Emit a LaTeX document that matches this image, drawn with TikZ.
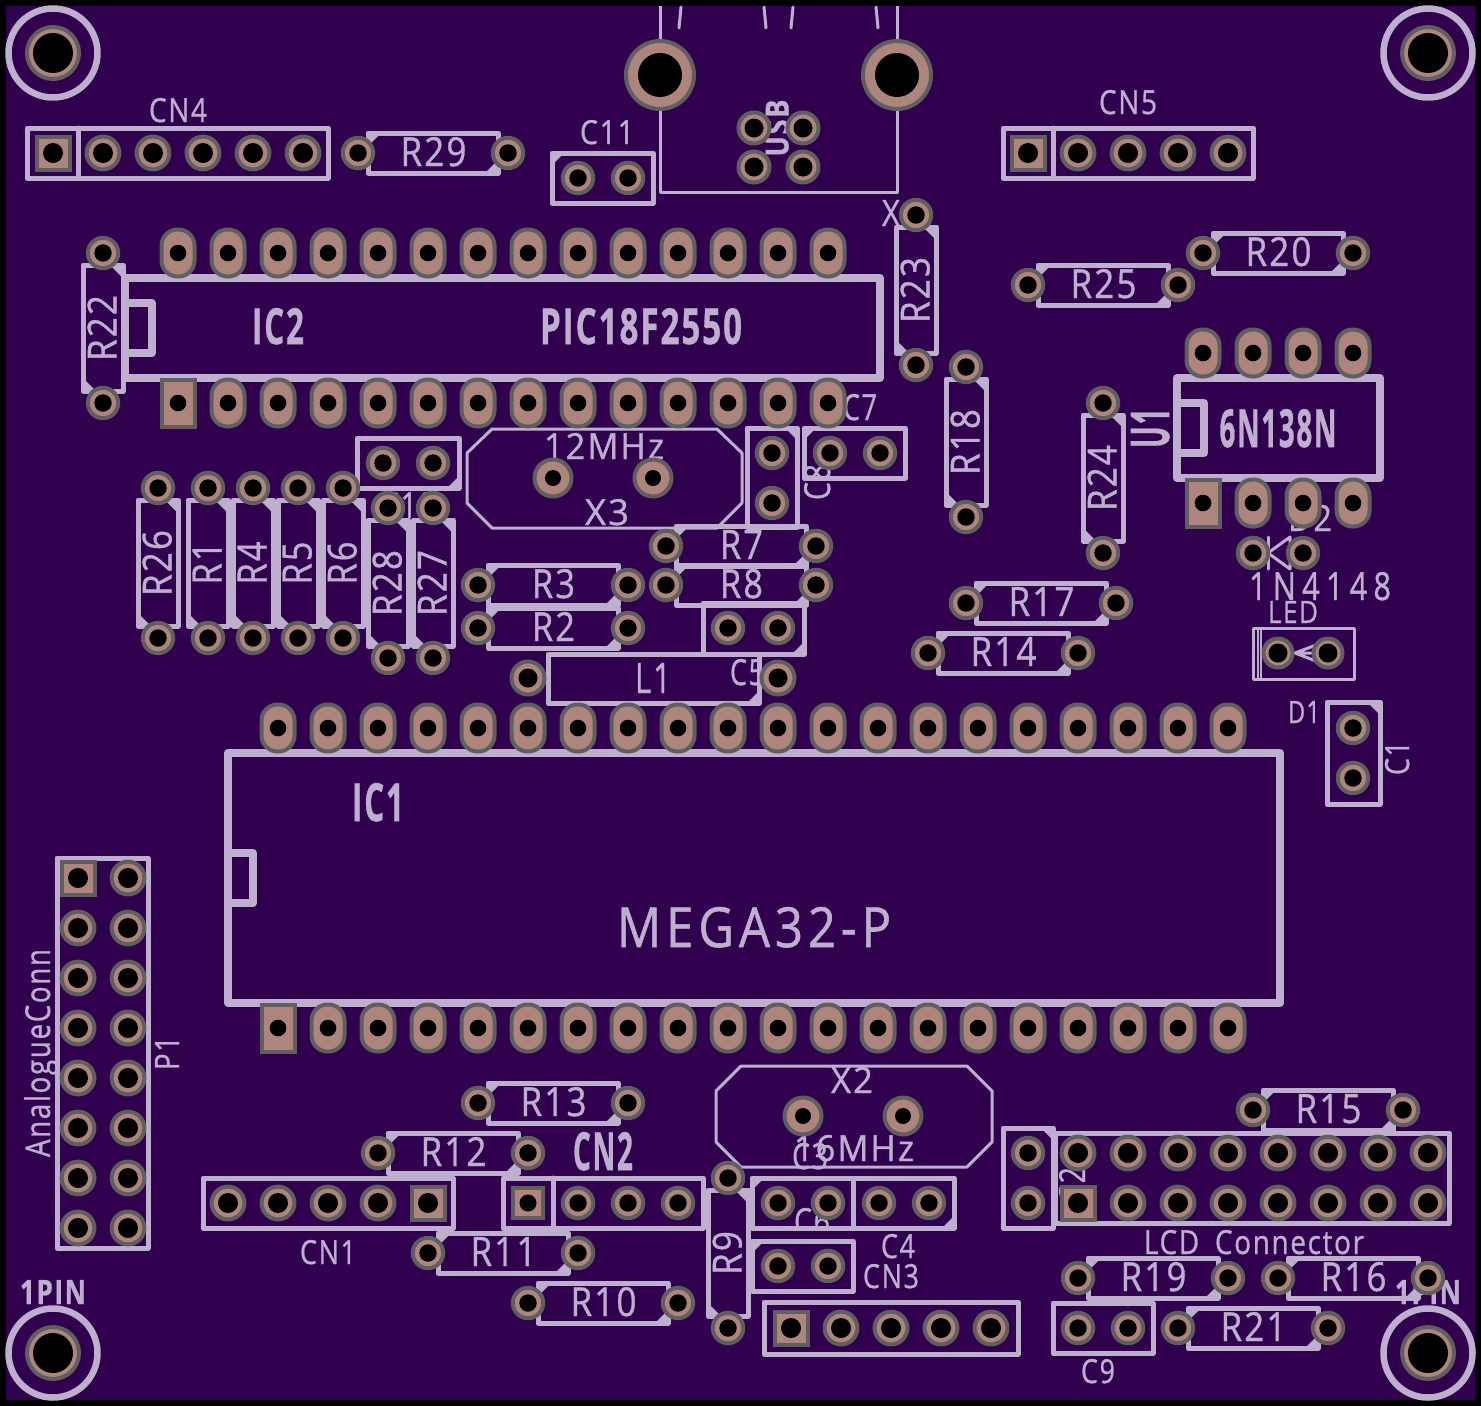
\documentclass[tikz,border=0pt]{standalone}
\usepackage{graphicx}
\usepackage{fontspec}
\setmainfont{Open Sans}[LetterSpace=6,FakeBold=1]
\definecolor{board}{HTML}{30004F}
\definecolor{silkc}{HTML}{BFAFCF}
\definecolor{padf}{HTML}{AD857D}
\definecolor{padl}{HTML}{5F5F5F}
\pgfdeclarelayer{pads}
\pgfsetlayers{main,pads}
\tikzset{
  silk/.style={draw=silkc,line width=5pt,line join=round,line cap=round},
  thick silk/.style={silk,line width=8pt},
  thin silk/.style={silk,line width=3pt},
  pad/.style={draw=padl,fill=padf,line width=4pt},
  hole/.style={fill=black},
  lbl/.style={inner sep=0pt,outer sep=0pt,text=silkc,anchor=center}
}
\newcounter{tcnt}
% text: x y rot width height text
\newcommand\T[6]{\stepcounter{tcnt}\node[lbl,rotate=#3] (t\thetcnt) at (#1,#2) {\resizebox{#4pt}{#5pt}{\raisebox{0pt}[\height][0pt]{#6}}};}
% round pad: x y outer-radius hole-radius
\newcommand\RP[4]{\begin{pgfonlayer}{pads}\draw[pad] (#1,#2) circle ({#3-2}); \fill[hole] (#1,#2) circle (#4);\end{pgfonlayer}}
\newcommand\rp[2]{\RP{#1}{#2}{17.2}{8.7}}
\newcommand\rb[2]{\RP{#1}{#2}{18.4}{10}}
% square pads: large and small
\newcommand\sq[2]{\begin{pgfonlayer}{pads}\draw[pad] ({#1-16.5},{#2-16.5}) rectangle ({#1+16.5},{#2+16.5}); \fill[hole] (#1,#2) circle (10);\end{pgfonlayer}}
\newcommand\sqs[2]{\begin{pgfonlayer}{pads}\draw[pad] ({#1-15},{#2-15}) rectangle ({#1+15},{#2+15}); \fill[hole] (#1,#2) circle (8.5);\end{pgfonlayer}}
% oval DIP pad and square DIP pad
\newcommand\ov[2]{\begin{pgfonlayer}{pads}\draw[pad,rounded corners=16pt] ({#1-16.5},{#2-23.5}) rectangle ({#1+16.5},{#2+23.5}); \fill[hole] (#1,#2) circle (8.3);\end{pgfonlayer}}
\newcommand\ovs[2]{\begin{pgfonlayer}{pads}\draw[pad] ({#1-16.5},{#2-23.5}) rectangle ({#1+16.5},{#2+23.5}); \fill[hole] (#1,#2) circle (8.3);\end{pgfonlayer}}
% box
\newcommand\bx[4]{\draw[silk] (#1,#2) rectangle (#3,#4);}
% corner triangle: corner x y, dx dy
\newcommand\cf[4]{\fill[silkc] (#1,#2) -- ({#1+#3},#2) -- (#1,{#2+#4}) -- cycle;}
% horizontal resistor: [text width] left pad x, y, label
\newcommand\Rh[4][66]{\draw[silk] ({#2+10},{#3-20}) rectangle ({#2+140},{#3+20});
  \cf{#2+10}{#3-20}{13}{13}
  \cf{#2+140}{#3+20}{-13}{-13}
  \T{#2+75.5}{#3-1.5}{0}{#1}{29}{#4}\rp{#2}{#3}\rp{#2+150}{#3}}
% vertical resistor: x, top pad y, text width, label
\newcommand\Rv[4]{\draw[silk] ({#1-20},{#2+12}) rectangle ({#1+20},{#2+138});
  \cf{#1+20}{#2+12}{-13}{13}
  \cf{#1-20}{#2+138}{13}{-13}
  \T{#1-1}{#2+75}{90}{#3}{29}{#4}\rp{#1}{#2}\rp{#1}{#2+150}}
% two pad capacitor, horizontal: box x1 y1 (102x50)
\newcommand\Ch[2]{\draw[silk] (#1,#2) rectangle ({#1+101},{#2+50});\rp{#1+26}{#2+25}\rp{#1+76}{#2+25}}
\begin{document}
\begin{tikzpicture}[x=1pt,y=-1pt]
\useasboundingbox (0,0) rectangle (1481,1406);
\fill[black] (0,0) rectangle (1481,1406);
\fill[board] (6,6) rectangle (1475,1400);

% mounting holes
\foreach \mx/\my in {53/53,1428/53,53/1353,1428/1353}{
  \draw[silk,line width=6.5pt] (\mx,\my) circle (44.5);
  \begin{pgfonlayer}{pads}
    \draw[pad] (\mx,\my) circle (26);
    \fill[hole] (\mx,\my) circle (20);
  \end{pgfonlayer}
}
\T{53}{1292}{0}{66}{24}{\bfseries 1PIN}
\T{1428}{1292}{0}{66}{24}{\bfseries 1PIN}

% USB
\draw[thin silk,line cap=butt] (660,6) -- (660,192) -- (897,192) -- (897,6);
\draw[thin silk] (681,7) -- (679,28);
\draw[thin silk] (764,7) -- (766,28);
\draw[thin silk] (793,7) -- (791,28);
\draw[thin silk] (876,7) -- (878,28);
\RP{660}{75}{36}{22}
\RP{897}{75}{36}{22}
\T{777}{128}{90}{57}{23}{\bfseries USB}
\foreach \ux/\uy in {754/128,803/128,754/167,803/167}{\RP{\ux}{\uy}{17.5}{9.5}}

% CN4
\bx{27}{128}{328}{178}
\draw[silk] (78,128) -- (78,178);
\T{178}{110}{0}{58}{24}{CN4}
\sq{53}{153}
\foreach \px in {103,153,203,253,303}{\rb{\px}{153}}
% R29, C11
\Rh{358}{153}{R29}
\Ch{552}{153}
\cf{552}{153}{12}{12}
\T{607}{132}{0}{54}{24}{C11}
% CN5
\bx{1003}{128}{1253}{178}
\draw[silk] (1053,128) -- (1053,178);
\T{1128}{102}{0}{58}{24}{CN5}
\sq{1028}{153}
\foreach \px in {1078,1128,1178,1228}{\rb{\px}{153}}
\Rh{1203}{253}{R20}
\Rh{1028}{285}{R25}
\T{891}{213}{0}{18}{26}{X}
\Rv{916}{215}{66}{R23}

% IC2
\draw[thick silk] (125,278) rectangle (880,378);
\draw[thick silk] (125,303) -- (152,303) -- (152,353) -- (125,353);
\T{278}{326}{0}{52}{36}{\bfseries IC2}
\T{641}{326}{0}{202}{36}{\bfseries PIC18F2550}
\foreach \px in {178,228,...,828}{\ov{\px}{253}}
\foreach \px in {228,278,...,828}{\ov{\px}{403}}
\ovs{178}{403}
\Rv{103}{253}{66}{R22}

% U1
\draw[thick silk] (1177,378) rectangle (1380,478);
\draw[thick silk] (1177,403) -- (1204,403) -- (1204,453) -- (1177,453);
\T{1278}{428}{0}{117}{38}{\bfseries 6N138N}
\T{1150}{428}{90}{40}{38}{\bfseries U1}
\foreach \px in {1203,1253,1303,1353}{\ov{\px}{353}}
\foreach \px in {1253,1303,1353}{\ov{\px}{503}}
\ovs{1203}{503}
\Rv{1103}{403}{66}{R24}
\Rv{966}{367}{66}{R18}
\Rh{966}{603}{R17}
\Rh{928}{653}{R14}

% D2
\T{1310}{518}{0}{44}{26}{D2}
\draw[thin silk] (1268,537) -- (1268,569);
\draw[thin silk] (1290,537) -- (1268,553) -- (1290,569) -- cycle;
\rp{1253}{553}\rp{1303}{553}
\T{1320}{586}{0}{142}{28}{\addfontfeature{LetterSpace=20}1N4148}
\T{1293}{612}{0}{50}{22}{LED}
% LED
\draw[thin silk] (1253,628) rectangle (1354,679);
\draw[silk,line width=2pt] (1258,628) -- (1258,679) (1261,628) -- (1261,679);
\draw[thin silk] (1295,653) -- (1316,645) (1295,653) -- (1316,653) (1295,653) -- (1316,661);
\RP{1278}{653}{16.5}{9.5}\RP{1328}{653}{16.5}{9.5}
% D1, C1
\T{1304}{712}{0}{32}{22}{D1}
\bx{1327}{702}{1380}{804}
\cf{1380}{702}{-13}{13}
\rp{1353}{728}\rp{1353}{778}
\T{1397}{758}{90}{34}{24}{C1}

% resistor bank
\Rv{158}{488}{66}{R26}
\Rv{208}{488}{43}{R1}
\Rv{253}{488}{43}{R4}
\Rv{298}{488}{43}{R5}
\Rv{343}{488}{43}{R6}
\T{408}{505}{0}{54}{26}{C10}
\Rv{388}{508}{66}{R28}
\Rv{433}{508}{66}{R27}
% C10
\draw[silk] (357,438) rectangle (459,488);
\cf{459}{488}{-12}{-12}
\rp{383}{463}\rp{433}{463}
% X3
\draw[thin silk] (492,429) -- (717,429) -- (742,453) -- (742,503) -- (717,528) -- (492,528) -- (467,503) -- (467,453) -- cycle;
\T{604}{446}{0}{120}{26}{12MHz}
\T{607}{512}{0}{44}{26}{X3}
\RP{553}{478}{20.5}{8}\RP{653}{478}{20.5}{8}
% C8, C7
\T{817}{482}{90}{36}{26}{C8}
\bx{747}{428}{797}{527}
\cf{797}{428}{-12}{12}
\rp{772}{453}\rp{772}{503}
\Ch{804}{428}
\cf{804}{428}{12}{12}
\T{860}{407}{0}{34}{26}{C7}
% R7 R8 R3 R2
\Rh[43]{666}{546}{R7}
\Rh[43]{666}{585}{R8}
\Rh[43]{478}{585}{R3}
\Rh[43]{478}{628}{R2}
% C5, L1
\draw[silk] (703,603) rectangle (804,654);
\cf{804}{654}{-12}{-12}
\rp{728}{628}\rp{778}{628}
\draw[silk] (548,654) rectangle (759,703);
\cf{759}{703}{-12}{-12}
\T{653}{678}{0}{36}{30}{L1}
\T{747}{672}{0}{34}{26}{C5}
\RP{528}{678}{18.5}{9.5}\RP{778}{678}{18.5}{9.5}

% IC1
\draw[thick silk] (228,753) rectangle (1280,1003);
\draw[thick silk] (228,853) -- (253,853) -- (253,903) -- (228,903);
\T{378}{802}{0}{52}{38}{\bfseries IC1}
\T{754}{927}{0}{274}{40}{\addfontfeature{LetterSpace=10}MEGA32-P}
\foreach \px in {278,328,...,1228}{\ov{\px}{728}}
\foreach \px in {328,378,...,1228}{\ov{\px}{1028}}
\ovs{278}{1028}

% P1
\bx{57}{858}{148}{1248}
\T{37}{1053}{90}{208}{26}{AnalogueConn}
\T{167}{1053}{90}{34}{24}{P1}
\sq{78}{878}
\foreach \py in {928,978,...,1228}{\rb{78}{\py}}
\foreach \py in {878,928,...,1228}{\rb{128}{\py}}

% bottom resistors
\Rh{478}{1103}{R13}
\Rh{378}{1153}{R12}
\Rh{428}{1253}{R11}
\Rh{528}{1303}{R10}
\T{603}{1151}{0}{60}{38}{\bfseries CN2}
% CN1
\bx{203}{1178}{453}{1228}
\T{328}{1252}{0}{56}{24}{CN1}
\foreach \px in {228,278,328,378}{\rb{\px}{1203}}
\sq{428}{1203}
% CN2 connector
\bx{503}{1178}{703}{1228}
\draw[silk] (553,1178) -- (553,1228);
\sqs{528}{1203}
\foreach \px in {578,628,678}{\rp{\px}{1203}}
% R9
\Rv{728}{1178}{44}{R9}
% X2
\draw[thin silk] (741,1066) -- (967,1066) -- (992,1091) -- (992,1142) -- (967,1167) -- (741,1167) -- (716,1142) -- (716,1091) -- cycle;
\T{852}{1080}{0}{42}{26}{X2}
\T{854}{1148}{0}{120}{26}{16MHz}
\T{810}{1156}{0}{36}{26}{C3}
\RP{803}{1116}{20.5}{8}\RP{903}{1116}{20.5}{8}
% C3, C4, C6
\begin{scope}
\clip (700,1180) rectangle (860,1229);
\T{812}{1221}{0}{36}{26}{C6}
\end{scope}
\Ch{752}{1178}
\cf{752}{1178}{12}{12}
\Ch{853}{1178}
\cf{954}{1228}{-12}{-12}
\T{898}{1246}{0}{34}{24}{C4}
\Ch{752}{1241}
\cf{752}{1241}{12}{12}
\T{891}{1276}{0}{56}{24}{CN3}
% CN3
\bx{764}{1302}{1018}{1354}
\sq{791}{1328}
\foreach \px in {841,891,941,991}{\rb{\px}{1328}}
% C2
\T{1072}{1185}{90}{36}{26}{C2}
\bx{1003}{1128}{1053}{1228}
\cf{1053}{1128}{-12}{12}
\rp{1028}{1153}\rp{1028}{1203}
% LCD connector
\bx{1055}{1133}{1449}{1223}
\T{1254}{1242}{0}{220}{24}{LCD\_Connector}
\sq{1078}{1203}
\foreach \px in {1128,1178,...,1428}{\rb{\px}{1203}}
\foreach \px in {1078,1128,...,1428}{\rb{\px}{1153}}
\Rh{1253}{1110}{R15}
\Rh{1078}{1278}{R19}
\Rh{1278}{1278}{R16}
\Rh{1178}{1328}{R21}
% C9
\bx{1053}{1303}{1153}{1353}
\rp{1078}{1328}\rp{1128}{1328}
\T{1098}{1371}{0}{34}{24}{C9}
\end{tikzpicture}
\end{document}
